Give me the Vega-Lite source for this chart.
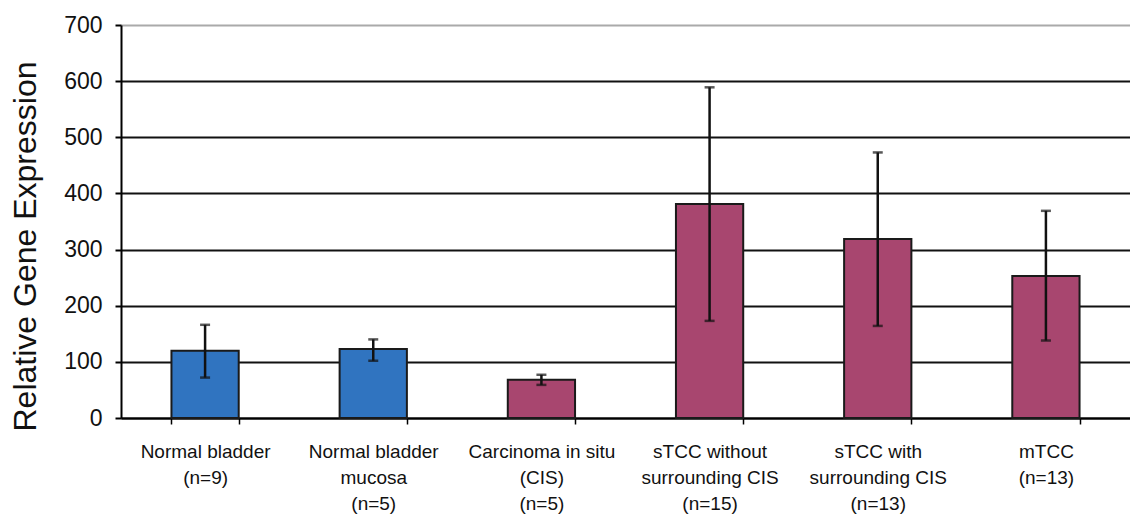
{
  "$schema": "https://vega.github.io/schema/vega-lite/v6.json",
  "width": 1009,
  "height": 393,
  "autosize": "none",
  "padding": {"left": 121, "top": 25, "right": 0, "bottom": 96},
  "background": "white",
  "config": {
    "view": {"stroke": null},
    "font": "Liberation Sans"
  },
  "data": {
    "values": [
      {"group": "Normal bladder|(n=9)", "type": "normal", "mean": 120, "lo": 72, "hi": 166},
      {"group": "Normal bladder|mucosa|(n=5)", "type": "normal", "mean": 123, "lo": 102, "hi": 140},
      {"group": "Carcinoma in situ|(CIS)|(n=5)", "type": "tumor", "mean": 68, "lo": 59, "hi": 77},
      {"group": "sTCC without|surrounding CIS|(n=15)", "type": "tumor", "mean": 381, "lo": 173, "hi": 589},
      {"group": "sTCC with|surrounding CIS|(n=13)", "type": "tumor", "mean": 319, "lo": 164, "hi": 473},
      {"group": "mTCC|(n=13)", "type": "tumor", "mean": 253, "lo": 138, "hi": 369}
    ]
  },
  "encoding": {
    "x": {
      "field": "group",
      "type": "nominal",
      "sort": null,
      "scale": {"paddingInner": 0.6, "paddingOuter": 0.3},
      "axis": {
        "title": null,
        "labelAngle": 0,
        "labelExpr": "split(datum.label, '|')",
        "labelFontSize": 19,
        "labelColor": "#111",
        "labelLineHeight": 26,
        "labelPadding": 18,
        "labelBaseline": "top",
        "tickBand": "extent",
        "tickSize": 6,
        "tickColor": "black",
        "tickWidth": 1.5,
        "domainColor": "black",
        "domainWidth": 2,
        "labelLimit": 300
      }
    }
  },
  "layer": [
    {
      "mark": {"type": "bar", "stroke": "#1a1a1a", "strokeWidth": 2},
      "encoding": {
        "y": {
          "field": "mean",
          "type": "quantitative",
          "scale": {"domain": [0, 700]},
          "title": "Relative Gene Expression",
          "axis": {
            "titleFontSize": 32,
            "titleFontWeight": "normal",
            "titleColor": "#111",
            "titleX": -96,
            "titleY": 221,
            "titleAlign": "center",
            "titleBaseline": "middle",
            "titleAngle": -90,
            "values": [0, 100, 200, 300, 400, 500, 600, 700],
            "labelFontSize": 23,
            "labelColor": "#111",
            "labelPadding": 13,
            "tickSize": 6,
            "tickColor": "black",
            "tickWidth": 2,
            "domainColor": "black",
            "domainWidth": 2,
            "grid": true,
            "gridColor": {"condition": {"test": "datum.value == 700", "value": "#aaaaaa"}, "value": "#111"},
            "gridWidth": 2
          }
        },
        "color": {
          "field": "type",
          "type": "nominal",
          "scale": {"domain": ["normal", "tumor"], "range": ["#3074C0", "#A8466F"]},
          "legend": null
        }
      }
    },
    {
      "mark": {
        "type": "errorbar",
        "ticks": {"size": 10, "thickness": 2.5, "color": "#111"},
        "rule": {"strokeWidth": 2.5, "color": "#111"}
      },
      "encoding": {
        "y": {"field": "lo", "type": "quantitative", "title": "Relative Gene Expression"},
        "y2": {"field": "hi"}
      }
    }
  ]
}
